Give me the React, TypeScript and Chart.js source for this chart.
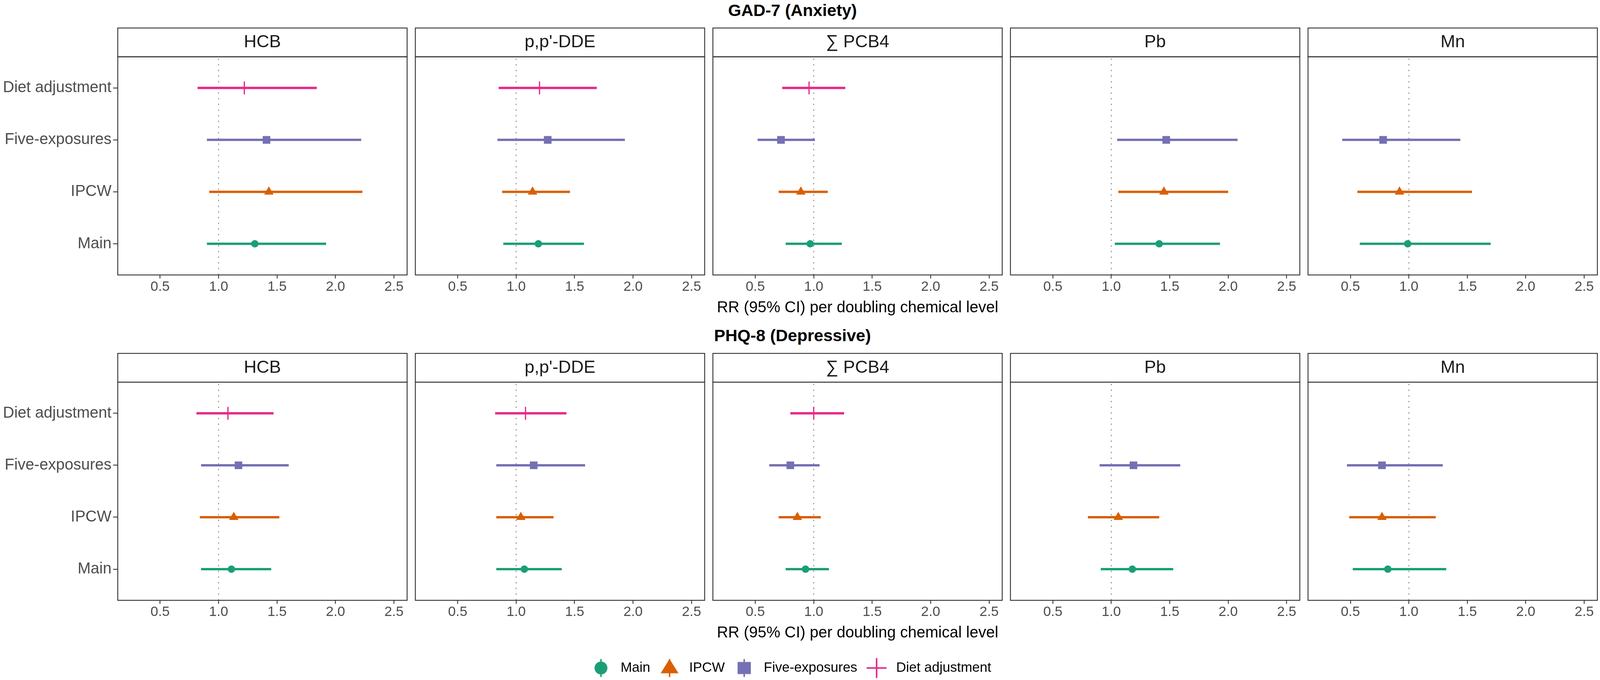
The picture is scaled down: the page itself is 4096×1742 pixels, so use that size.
import React, { useEffect, useRef } from 'react';
import { Chart, registerables } from 'chart.js';

Chart.register(...registerables);

// ---------------- data ----------------
const outcomeTitles = ['GAD-7 (Anxiety)', 'PHQ-8 (Depressive)'];
const chemicals = ['HCB', "p,p'-DDE", '\u2211 PCB4', 'Pb', 'Mn'];
const methods = ['Main', 'IPCW', 'Five-exposures', 'Diet adjustment'];
const xTickValues = [0.5, 1.0, 1.5, 2.0, 2.5];
const xAxisTitle = 'RR (95% CI) per doubling chemical level';
const referenceRR = 1;

// GAD-7 (Anxiety) — order of chemicals: HCB, p,p'-DDE, ∑PCB4, Pb, Mn
const gadMainEst = [1.31, 1.19, 0.97, 1.41, 0.99];
const gadMainLo = [0.90, 0.89, 0.76, 1.03, 0.58];
const gadMainHi = [1.92, 1.58, 1.24, 1.93, 1.70];
const gadIpcwEst = [1.43, 1.14, 0.89, 1.45, 0.92];
const gadIpcwLo = [0.92, 0.88, 0.70, 1.06, 0.56];
const gadIpcwHi = [2.23, 1.46, 1.12, 2.00, 1.54];
const gadFiveEst = [1.41, 1.27, 0.72, 1.47, 0.78];
const gadFiveLo = [0.90, 0.84, 0.52, 1.05, 0.43];
const gadFiveHi = [2.22, 1.93, 1.01, 2.08, 1.44];
const gadDietEst = [1.22, 1.20, 0.96, null, null];
const gadDietLo = [0.82, 0.85, 0.73, null, null];
const gadDietHi = [1.84, 1.69, 1.27, null, null];

// PHQ-8 (Depressive)
const phqMainEst = [1.11, 1.07, 0.93, 1.18, 0.82];
const phqMainLo = [0.85, 0.83, 0.76, 0.91, 0.52];
const phqMainHi = [1.45, 1.39, 1.13, 1.53, 1.32];
const phqIpcwEst = [1.13, 1.04, 0.86, 1.06, 0.77];
const phqIpcwLo = [0.84, 0.83, 0.70, 0.80, 0.49];
const phqIpcwHi = [1.52, 1.32, 1.06, 1.41, 1.23];
const phqFiveEst = [1.17, 1.15, 0.80, 1.19, 0.77];
const phqFiveLo = [0.85, 0.83, 0.62, 0.90, 0.47];
const phqFiveHi = [1.60, 1.59, 1.05, 1.59, 1.29];
const phqDietEst = [1.08, 1.08, 1.00, null, null];
const phqDietLo = [0.81, 0.82, 0.80, null, null];
const phqDietHi = [1.47, 1.43, 1.26, null, null];

const outcomeTables = [
  {
    est: [gadMainEst, gadIpcwEst, gadFiveEst, gadDietEst],
    lo: [gadMainLo, gadIpcwLo, gadFiveLo, gadDietLo],
    hi: [gadMainHi, gadIpcwHi, gadFiveHi, gadDietHi],
  },
  {
    est: [phqMainEst, phqIpcwEst, phqFiveEst, phqDietEst],
    lo: [phqMainLo, phqIpcwLo, phqFiveLo, phqDietLo],
    hi: [phqMainHi, phqIpcwHi, phqFiveHi, phqDietHi],
  },
];

// ---------------- layout & style ----------------
const S = 0.957;
const FONT = '"Liberation Sans", Arial, Helvetica, sans-serif';
const COLORS = ['#1B9E77', '#D95F02', '#7570B3', '#E7298A'];
const MARKERS = [
  { style: 'circle', radius: 9.5, border: 0 },
  { style: 'triangle', radius: 14, border: 0 },
  { style: 'rect', radius: 13.8, border: 0 },
  { style: 'cross', radius: 16.5, border: 3.2 },
];
const PANEL_LEFT = [315, 1111, 1907, 2703, 3499]; // reference px
const PANEL_W = 774;
const STRIP_TOP = [75, 946];
const STRIP_H = 77;
const PANEL_H = 584;
const TITLE_CX = 2120;
const TITLE_CY = [27, 898];
const X_MIN = 0.1375;
const X_MAX = 2.6125;
const Y_MIN = 0.4;
const Y_MAX = 4.6;
const XBAND = 110; // scaled height of x axis band
const LINE_W = 6;
const BORDER = '#333333';

const framePlugin = {
  id: 'frame',
  afterDraw(chart: any, _args: any, opts: any) {
    const { ctx, chartArea: a } = chart;
    ctx.save();
    ctx.strokeStyle = BORDER;
    ctx.lineWidth = opts.lineWidth;
    ctx.strokeRect(a.left, a.top - opts.stripHeight, a.right - a.left, opts.stripHeight);
    ctx.strokeRect(a.left, a.top, a.right - a.left, a.bottom - a.top);
    ctx.restore();
  },
};

function Panel({ row, col }: { row: number; col: number }) {
  const ref = useRef<HTMLCanvasElement | null>(null);
  const pl = PANEL_LEFT[col] * S;
  const pr = (PANEL_LEFT[col] + PANEL_W) * S;
  const st = STRIP_TOP[row] * S;
  const sh = STRIP_H * S;
  const pt = st + sh;
  const pb = pt + PANEL_H * S;
  const L = col === 0 ? 0 : Math.floor(pl - 10);
  const R = Math.min(4096, Math.ceil(pr + 10));
  const T = Math.floor(st - 4);
  const B = Math.ceil(pb + XBAND + 2);
  const W = R - L;
  const H = B - T;

  useEffect(() => {
    const tables = outcomeTables[row];
    const datasets: any[] = [];
    methods.forEach((m, k) => {
      const e = tables.est[k][col];
      if (e == null) return;
      datasets.push({
        label: m,
        data: [{ x: e, y: k + 1 }],
        showLine: false,
        pointStyle: MARKERS[k].style,
        pointRadius: MARKERS[k].radius,
        pointBackgroundColor: COLORS[k],
        pointBorderColor: COLORS[k],
        pointBorderWidth: MARKERS[k].border,
      });
    });
    methods.forEach((m, k) => {
      const lo = tables.lo[k][col];
      const hi = tables.hi[k][col];
      if (lo == null || hi == null) return;
      datasets.push({
        label: m + ' CI',
        data: [
          { x: lo, y: k + 1 },
          { x: hi, y: k + 1 },
        ],
        showLine: true,
        borderColor: COLORS[k],
        borderWidth: LINE_W,
        borderCapStyle: 'butt',
        pointRadius: 0,
      });
    });
    datasets.push({
      label: 'ref',
      data: [
        { x: referenceRR, y: Y_MIN },
        { x: referenceRR, y: Y_MAX },
      ],
      showLine: true,
      borderColor: '#8c8c8c',
      borderWidth: 2.3,
      borderDash: [3.5, 11],
      pointRadius: 0,
    });

    const tp = (sh - 54) / 2;
    const chart = new Chart(ref.current as HTMLCanvasElement, {
      type: 'scatter',
      data: { datasets },
      options: {
        responsive: false,
        maintainAspectRatio: false,
        animation: false,
        events: [],
        layout: {
          autoPadding: false,
          padding: {
            left: col === 0 ? 0 : pl - L,
            right: R - pr,
            top: st - T,
            bottom: B - (pb + XBAND),
          },
        },
        scales: {
          x: {
            type: 'linear',
            min: X_MIN,
            max: X_MAX,
            bounds: 'data',
            afterBuildTicks: (s: any) => {
              s.ticks = xTickValues.map((v) => ({ value: v }));
            },
            afterFit: (s: any) => {
              s.height = XBAND;
            },
            ticks: {
              callback: (v: any) => Number(v).toFixed(1),
              color: '#4d4d4d',
              font: { family: FONT, size: 35.4 },
              padding: 0.5,
              maxRotation: 0,
              autoSkip: false,
            },
            grid: {
              display: true,
              drawOnChartArea: false,
              drawTicks: true,
              tickLength: 9,
              tickWidth: 2.2,
              tickColor: BORDER,
              color: BORDER,
            },
            border: { display: false },
            title: {
              display: col === 2,
              text: xAxisTitle,
              color: '#000000',
              font: { family: FONT, size: 40 },
              padding: { top: 0, bottom: 1.8 },
            },
          },
          y: {
            type: 'linear',
            min: Y_MIN,
            max: Y_MAX,
            bounds: 'data',
            display: col === 0,
            afterBuildTicks: (s: any) => {
              s.ticks = methods.map((_, i) => ({ value: i + 1 }));
            },
            afterFit: (s: any) => {
              s.width = col === 0 ? pl - L : 0;
            },
            ticks: {
              callback: (v: any) => methods[Math.round(Number(v)) - 1],
              color: '#4d4d4d',
              font: { family: FONT, size: 40 },
              padding: 4,
              autoSkip: false,
            },
            grid: {
              display: true,
              drawOnChartArea: false,
              drawTicks: true,
              tickLength: 12,
              tickWidth: 2.2,
              tickColor: BORDER,
              color: BORDER,
            },
            border: { display: false },
          },
        },
        plugins: {
          legend: { display: false },
          tooltip: { enabled: false },
          title: {
            display: true,
            text: chemicals[col],
            fullSize: false,
            color: '#1a1a1a',
            font: { family: FONT, size: 45, weight: 'normal', lineHeight: 1.2 },
            padding: { top: tp, bottom: tp },
          },
          frame: { stripHeight: sh, lineWidth: 2.3 },
        } as any,
      } as any,
      plugins: [framePlugin],
    });
    return () => chart.destroy();
  }, []);

  return (
    <canvas
      ref={ref}
      width={W}
      height={H}
      style={{ position: 'absolute', left: L, top: T, width: W, height: H }}
    />
  );
}

function makeKey(k: number): HTMLCanvasElement {
  const c = document.createElement('canvas');
  c.width = 56;
  c.height = 54;
  const ctx = c.getContext('2d') as CanvasRenderingContext2D;
  const cx = 28;
  const cy = 27;
  const col = COLORS[k];
  ctx.fillStyle = col;
  ctx.strokeStyle = col;
  ctx.lineWidth = 3.8;
  // vertical range line of the key
  ctx.beginPath();
  ctx.moveTo(cx, cy - 23);
  ctx.lineTo(cx, cy + 23);
  ctx.stroke();
  if (k === 0) {
    ctx.beginPath();
    ctx.arc(cx, cy, 16.5, 0, Math.PI * 2);
    ctx.fill();
  } else if (k === 1) {
    ctx.beginPath();
    ctx.moveTo(cx, cy - 23.2);
    ctx.lineTo(cx + 22.8, cy + 13.4);
    ctx.lineTo(cx - 22.8, cy + 13.4);
    ctx.closePath();
    ctx.fill();
  } else if (k === 2) {
    ctx.fillRect(cx - 17, cy - 15.5, 34, 31);
  } else {
    ctx.beginPath();
    ctx.moveTo(cx - 25.5, cy);
    ctx.lineTo(cx + 25.5, cy);
    ctx.moveTo(cx, cy - 25.5);
    ctx.lineTo(cx, cy + 25.5);
    ctx.stroke();
  }
  return c;
}

function LegendChart() {
  const ref = useRef<HTMLCanvasElement | null>(null);
  const L = 1489;
  const T = 1677;
  const W = 1200;
  const H = 65;
  useEffect(() => {
    const keys = methods.map((_, k) => makeKey(k));
    const chart = new Chart(ref.current as HTMLCanvasElement, {
      type: 'scatter',
      data: {
        datasets: methods.map((m, k) => ({
          label: m,
          data: [],
          backgroundColor: COLORS[k],
          borderColor: COLORS[k],
        })),
      },
      options: {
        responsive: false,
        maintainAspectRatio: false,
        animation: false,
        events: [],
        layout: { autoPadding: false, padding: 0 },
        scales: { x: { display: false }, y: { display: false } },
        plugins: {
          tooltip: { enabled: false },
          legend: {
            display: true,
            position: 'top',
            align: 'start',
            maxHeight: 300,
            labels: {
              usePointStyle: true,
              pointStyleWidth: 65.4,
              padding: 16.8,
              color: '#000000',
              font: { family: FONT, size: 35 },
              generateLabels: () =>
                methods.map((m, k) => ({
                  text: m,
                  pointStyle: keys[k],
                  fillStyle: COLORS[k],
                  strokeStyle: COLORS[k],
                  lineWidth: 0,
                  hidden: false,
                  datasetIndex: k,
                  fontColor: '#000000',
                })),
            },
          },
        },
      } as any,
    });
    return () => chart.destroy();
  }, []);
  return (
    <canvas
      ref={ref}
      width={W}
      height={H}
      style={{ position: 'absolute', left: L, top: T, width: W, height: H }}
    />
  );
}

export default function App() {
  return (
    <div
      style={{
        position: 'fixed',
        left: 0,
        top: 0,
        width: 4096,
        height: 1742,
        background: '#ffffff',
        overflow: 'hidden',
      }}
    >
      {outcomeTitles.map((t, r) => (
        <div
          key={t}
          style={{
            position: 'absolute',
            left: TITLE_CX * S,
            top: TITLE_CY[r] * S,
            transform: 'translate(-50%, -50%)',
            fontFamily: FONT,
            fontWeight: 'bold',
            fontSize: 43,
            lineHeight: 1,
            whiteSpace: 'nowrap',
            color: '#000000',
          }}
        >
          {t}
        </div>
      ))}
      {[0, 1].map((r) =>
        chemicals.map((_, c) => <Panel key={`${r}-${c}`} row={r} col={c} />)
      )}
      <LegendChart />
    </div>
  );
}
